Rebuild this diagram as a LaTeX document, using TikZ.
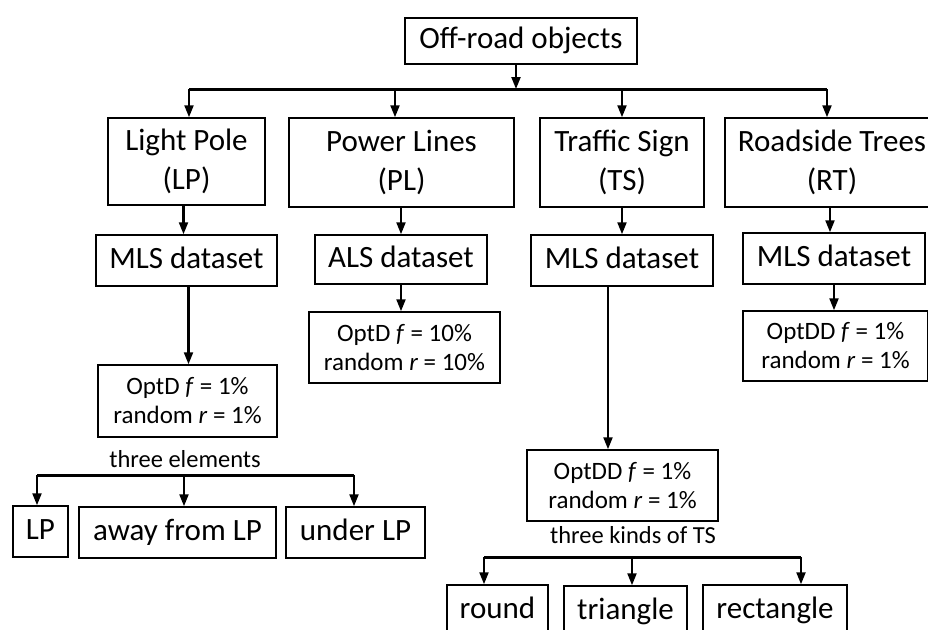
\documentclass[tikz,border=0pt]{standalone}
\usepackage{fontspec}
\setmainfont{Carlito}
\usetikzlibrary{arrows.meta}
\begin{document}
\begin{tikzpicture}[x=1pt,y=-1pt,
 box/.style={draw,line width=1.5pt,inner sep=0pt,align=center,font=\fontsize{31}{39}\selectfont},
 sbox/.style={box,font=\fontsize{25}{29}\selectfont},
 arr/.style={line width=2.2pt,-{Triangle[length=12pt,width=9pt]}},
 bus/.style={line width=3pt},
 lbl/.style={font=\fontsize{24.5}{29}\selectfont,inner sep=0pt}]
\useasboundingbox (0,0) rectangle (928,629);
% top
\node[box,minimum width=232pt,minimum height=46pt] (top) at (521,41) {Off-road objects\strut};
% row 2
\node[box,minimum width=157pt,minimum height=87pt] (LP) at (186.5,161.5) {Light Pole\\(LP)};
\node[box,minimum width=225pt,minimum height=89pt] (PL) at (401.5,162.5) {Power Lines\\(PL)};
\node[box,minimum width=164pt,minimum height=89pt] (TS) at (622,162.5) {Traffic Sign\\(TS)};
\node[box,minimum width=214pt,minimum height=89pt] (RT) at (832,162.5) {Roadside Trees\\(RT)};
% row 3
\node[box,minimum width=181pt,minimum height=51pt] (D1) at (186.5,260.5) {MLS dataset\strut};
\node[box,minimum width=172pt,minimum height=49pt] (D2) at (401,259.5) {ALS dataset\strut};
\node[box,minimum width=182pt,minimum height=51pt] (D3) at (622,260.5) {MLS dataset\strut};
\node[box,minimum width=182pt,minimum height=51pt] (D4) at (834,258.5) {MLS dataset\strut};
% row 4
\node[sbox,minimum width=179pt,minimum height=72pt] (O1) at (187.5,401) {OptD \textit{f} = 1\%\\random \textit{r} = 1\%};
\node[sbox,minimum width=191pt,minimum height=71pt] (O2) at (404.5,347.5) {OptD \textit{f} = 10\%\\random \textit{r} = 10\%};
\node[sbox,minimum width=191pt,minimum height=71pt] (O3) at (622.5,485.5) {OptDD \textit{f} = 1\%\\random \textit{r} = 1\%};
\node[sbox,minimum width=185pt,minimum height=70pt] (O4) at (835.5,346) {OptDD \textit{f} = 1\%\\random \textit{r} = 1\%};
% labels
\node[lbl] (L1) at (185,459) {three elements};
\node[lbl] (L2) at (633,535) {three kinds of TS};
% LP children
\node[box,minimum width=55pt,minimum height=51pt] (C1) at (40.5,531.5) {LP\strut};
\node[box,minimum width=197pt,minimum height=51pt] (C2) at (177.5,532.5) {away from LP\strut};
\node[box,minimum width=139pt,minimum height=51pt] (C3) at (355.5,532.5) {under LP\strut};
% TS children
\node[box,minimum width=101pt,minimum height=51pt] (K1) at (497.5,610.5) {round\strut};
\node[box,minimum width=123pt,minimum height=51pt] (K2) at (625.5,611.5) {triangle\strut};
\node[box,minimum width=144pt,minimum height=51pt] (K3) at (775,610.5) {rectangle\strut};
% top bus
\coordinate (bC) at (516,89);
\coordinate (bA) at (189,89);
\coordinate (bB) at (395,89);
\coordinate (bT) at (622,89);
\coordinate (bR) at (827,89);
\draw[bus] (bA) -- (bR);
\draw[arr] (bC |- top.south) -- (bC);
\draw[arr] (bA) -- (bA |- LP.north);
\draw[arr] (bB) -- (bB |- PL.north);
\draw[arr] (bT) -- (bT |- TS.north);
\draw[arr] (bR) -- (bR |- RT.north);
% row2 -> row3
\draw[arr] ([xshift=-3pt]LP.south) -- ([xshift=-3pt]LP.south |- D1.north);
\draw[arr] (D2.north |- PL.south) -- (D2.north);
\draw[arr] (TS.south) -- (TS.south |- D3.north);
\draw[arr] ([xshift=-2pt]RT.south) -- ([xshift=-2pt]RT.south |- D4.north);
% row3 -> row4
\draw[arr] ([xshift=2pt]D1.south) -- ([xshift=2pt]D1.south |- O1.north);
\draw[arr] (D2.south) -- (D2.south |- O2.north);
\draw[arr] ([xshift=-14pt]D3.south) -- ([xshift=-14pt]D3.south |- O3.north);
\draw[arr] (D4.south) -- (D4.south |- O4.north);
% LP children bus
\coordinate (e1) at (37,475);
\coordinate (e2) at (184,475);
\coordinate (e3) at (354,475);
\draw[bus] (e1) -- (e3);
\draw[arr] (e1) -- (e1 |- C1.north);
\draw[arr] (e2) -- (e2 |- C2.north);
\draw[arr] (e3) -- (e3 |- C3.north);
% TS children bus
\coordinate (t1) at (484,557);
\coordinate (t2) at (632,557);
\coordinate (t3) at (801,557);
\draw[bus] (t1) -- (t3);
\draw[arr] (t1) -- (t1 |- K1.north);
\draw[arr] (t2) -- (t2 |- K2.north);
\draw[arr] (t3) -- (t3 |- K3.north);
\end{tikzpicture}
\end{document}
